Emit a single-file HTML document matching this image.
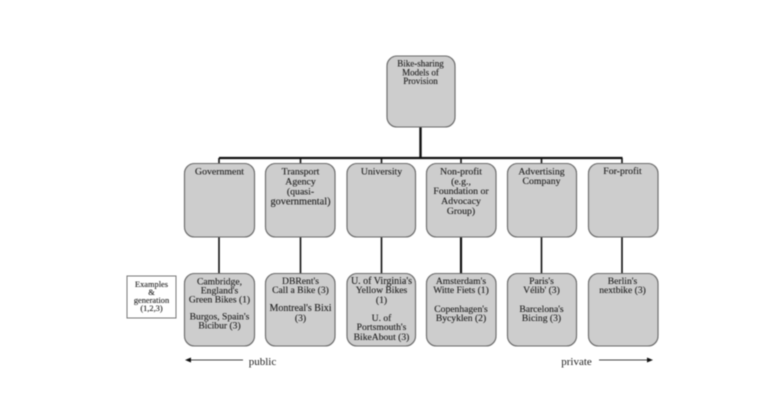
<!DOCTYPE html>
<html>
<head>
<meta charset="utf-8">
<style>
html,body{margin:0;padding:0;background:#fff;width:760px;height:401px;overflow:hidden}
svg{display:block;filter:blur(0.5px)}
text{font-family:"Liberation Serif",serif;font-size:9.8px;fill:#1e1e1e;stroke:#1e1e1e;stroke-width:.12;text-anchor:middle}
.r3 text{font-size:9.6px}
.b{fill:#cdcdcd;stroke:#6a6a6a;stroke-width:1.1}
</style>
</head>
<body>
<svg width="760" height="401" viewBox="0 0 760 401" xmlns="http://www.w3.org/2000/svg">
<!-- connectors -->
<g stroke="#111" fill="none">
<path d="M420.5 127V158" stroke-width="2.4"/>
<path d="M219 158H622.5" stroke-width="2.2"/>
<path d="M219 158V163M300.500 158V163M381.500 158V163M461 158V163M541.500 158V163M622 158V163" stroke-width="1.6"/>
<path d="M219 237V273M300.500 237V273M381.500 237V273M541.500 237V273M622 237V273" stroke-width="1.6"/>
<path d="M461 237V273" stroke-width="2.2"/>
</g>
<!-- boxes -->
<g style="filter:drop-shadow(.7px .7px 0 #808080)">
<rect class="b" x="387" y="56" width="68" height="71" rx="10"/>
<rect class="b" x="184.500" y="163.500" width="70" height="73.500" rx="10"/>
<rect class="b" x="265.500" y="163.500" width="69.500" height="73.500" rx="10"/>
<rect class="b" x="347" y="163.500" width="68.500" height="73.500" rx="10"/>
<rect class="b" x="426.500" y="163.500" width="69.500" height="73.500" rx="10"/>
<rect class="b" x="507.500" y="163.500" width="69" height="73.500" rx="10"/>
<rect class="b" x="588.500" y="163.500" width="69.500" height="73.500" rx="10"/>
<rect class="b" x="184.500" y="273.500" width="70" height="72.500" rx="10"/>
<rect class="b" x="265.500" y="273.500" width="69.500" height="72.500" rx="10"/>
<rect class="b" x="347" y="273.500" width="68.500" height="72.500" rx="10"/>
<rect class="b" x="426.500" y="273.500" width="69.500" height="72.500" rx="10"/>
<rect class="b" x="507.500" y="273.500" width="69" height="72.500" rx="10"/>
<rect class="b" x="588.500" y="273.500" width="69.500" height="72.500" rx="10"/>
<rect x="127" y="276" width="49" height="42" fill="#fff" stroke="#777" stroke-width="1"/>
</g>
<!-- root -->
<g style="font-size:9px">
<text x="420.500" y="66.500" style="font-size:9px">Bike-sharing</text>
<text x="420.500" y="75.500" style="font-size:9px">Models of</text>
<text x="420.500" y="84" style="font-size:9px">Provision</text>
</g>
<!-- row 2 -->
<text x="219.500" y="174.500">Government</text>
<text x="300.500" y="174.500">Transport</text>
<text x="300.500" y="184.500">Agency</text>
<text x="300.500" y="194.500">(quasi-</text>
<text x="300.500" y="204.500" style="font-size:10.300px">governmental)</text>
<text x="381.500" y="174.500">University</text>
<text x="461" y="174.500">Non-profit</text>
<text x="461" y="184.500">(e.g.,</text>
<text x="461" y="194">Foundation or</text>
<text x="461" y="204">Advocacy</text>
<text x="461" y="214">Group)</text>
<text x="541.500" y="174.500">Advertising</text>
<text x="541.500" y="184">Company</text>
<text x="622.500" y="174">For-profit</text>
<!-- row 3 -->
<g class="r3">
<text x="219.500" y="284.500">Cambridge,</text>
<text x="219.500" y="293.500">England's</text>
<text x="219.500" y="302.500">Green Bikes (1)</text>
<text x="219.500" y="319.500">Burgos, Spain's</text>
<text x="219.500" y="328.500">Bicibur (3)</text>
<text x="300.500" y="284">DBRent's</text>
<text x="300.500" y="293">Call a Bike (3)</text>
<text x="300.500" y="311" style="font-size:10px">Montreal's Bixi</text>
<text x="300.500" y="321">(3)</text>
<text x="381.500" y="284" style="font-size:10px">U. of Virginia's</text>
<text x="381.500" y="293">Yellow Bikes</text>
<text x="381.500" y="303">(1)</text>
<text x="381.500" y="321">U. of</text>
<text x="381.500" y="330">Portsmouth's</text>
<text x="381.500" y="340">BikeAbout (3)</text>
<text x="461" y="284">Amsterdam's</text>
<text x="461" y="293">Witte Fiets (1)</text>
<text x="461" y="312">Copenhagen's</text>
<text x="461" y="321">Bycyklen (2)</text>
<text x="541.500" y="284">Paris's</text>
<text x="541.500" y="293">Vélib' (3)</text>
<text x="541.500" y="312">Barcelona's</text>
<text x="541.500" y="321">Bicing (3)</text>
<text x="622.500" y="284">Berlin's</text>
<text x="622.500" y="293">nextbike (3)</text>
</g>
<!-- legend -->
<text x="151.500" y="287" style="font-size:8.4px">Examples</text>
<text x="151.500" y="295" style="font-size:8.4px">&amp;</text>
<text x="151.500" y="303" style="font-size:8.4px">generation</text>
<text x="151.500" y="311" style="font-size:8.4px">(1,2,3)</text>
<!-- arrows -->
<path d="M190 360H243" stroke="#444" stroke-width="1"/>
<path d="M185 360L191 357.500V362.500Z" fill="#111"/>
<path d="M599 360H648" stroke="#444" stroke-width="1"/>
<path d="M653 360L647 357.500V362.500Z" fill="#111"/>
<text x="262.500" y="365" style="font-size:11px;stroke-width:0">public</text>
<text x="576.500" y="365" style="font-size:11px;stroke-width:0">private</text>
</svg>
</body>
</html>
